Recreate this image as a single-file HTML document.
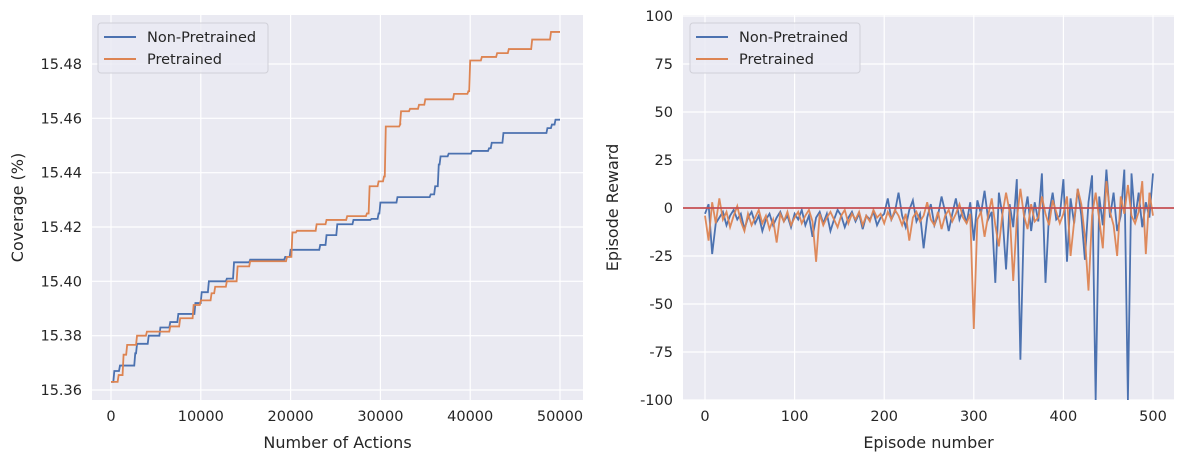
<!DOCTYPE html>
<html><head><meta charset="utf-8"><style>
body{margin:0;background:#fff;}
svg text{font-family:"DejaVu Sans","Liberation Sans",sans-serif;fill:#262626;}
</style></head><body>
<svg id="chart" width="1185" height="462" viewBox="0 0 1185 462" xmlns="http://www.w3.org/2000/svg"></svg>
<script>
// Left chart data (change points, step-after)
const npX=[0,370,1000,2700,2900,4200,5500,6600,7500,9000,9400,10100,10900,12900,13700,15500,19400,20000,22200,23300,24000,25200,27000,29000,29800,30000,31900,35600,36100,36500,36700,37600,40200,42100,42400,43700,48600,49100,49500,50000];
const npY=[15.363,15.367,15.369,15.3735,15.377,15.380,15.383,15.385,15.388,15.388,15.392,15.396,15.400,15.401,15.407,15.408,15.409,15.4116,15.4116,15.4134,15.417,15.421,15.4226,15.423,15.425,15.429,15.431,15.432,15.435,15.443,15.446,15.447,15.448,15.449,15.451,15.4546,15.4564,15.4577,15.4595,15.4595];
const ptX=[0,850,1400,1800,2900,4000,6600,7700,9200,10000,11200,11600,12900,14100,15500,19600,20200,20700,22900,24000,26300,28500,28800,29800,30400,30600,32200,32300,33300,34300,35000,38200,39800,40000,41300,43000,44300,46900,49000,50000];
const ptY=[15.363,15.3655,15.373,15.3766,15.380,15.3815,15.3834,15.3864,15.3913,15.393,15.3956,15.398,15.400,15.4055,15.4074,15.409,15.418,15.4186,15.421,15.4226,15.424,15.425,15.435,15.4368,15.4386,15.457,15.4577,15.4626,15.4635,15.465,15.467,15.469,15.470,15.4813,15.4826,15.484,15.4855,15.489,15.4918,15.4918];
const leftXTicks=[0,10000,20000,30000,40000,50000];
const leftYTicks=[15.36,15.38,15.40,15.42,15.44,15.46,15.48];
// Right chart data (every 4 episodes)
const epStep=4;
const blueR=[-3,2,-24,-8,-5,-2,-9,-4,-1,-6,-3,-11,-5,-2,-8,-4,-12,-6,-3,-9,-5,-2,-7,-4,-10,
-3,-6,-1,-9,-4,-15,-5,-2,-8,-3,-12,-6,-1,-4,-10,-5,-2,-7,-3,-11,-4,-6,-2,-9,-5,
-3,5,-6,-2,8,-4,-10,-1,4,-7,-3,-21,-5,2,-9,-4,6,-2,-12,-3,5,-6,-1,-8,3,
-17,4,-3,9,-6,-2,-39,8,-4,-32,2,-10,15,-79,-5,6,-12,3,-7,18,-39,-3,8,-6,-4,
15,-28,5,-8,10,-4,-27,3,17,-100,6,-9,20,-5,8,-12,-4,20,-100,18,-6,8,-10,3,-5,18];
const orangeR=[-4,-17,3,-8,5,-6,-2,-10,-4,1,-7,-12,-3,-9,-5,-1,-8,-4,-11,-6,-18,-3,-7,-2,-9,
-5,-2,-8,-4,-1,-7,-28,-3,-9,-5,-2,-6,-10,-4,-1,-8,-3,-6,-2,-9,-4,-7,-1,-5,-3,
-8,-2,-6,-1,-4,-9,-3,-17,-5,-2,-7,-4,3,-6,-9,-2,-11,-4,-1,-7,-3,2,-5,-8,-3,
-63,-6,-2,-15,-4,5,-9,-20,-3,8,-2,-38,-6,10,-4,-11,2,-7,-5,6,-3,-9,4,-2,-8,
-3,6,-25,-7,10,2,-15,-43,-4,8,-6,-21,14,-2,-9,-25,6,-3,12,-4,-8,-2,14,-24,8,-4];
const rightXTicks=[0,100,200,300,400,500];
const rightYTicks=[-100,-75,-50,-25,0,25,50,75,100];

const NS="http://www.w3.org/2000/svg";
const svg=document.getElementById('chart');
function mk(tag,attrs,parent){const e=document.createElementNS(NS,tag);for(const k in attrs)e.setAttribute(k,attrs[k]);(parent||svg).appendChild(e);return e;}

function panel(cfg){
  const g=mk('g',{});
  
  
  mk('rect',{x:cfg.x0,y:cfg.y0,width:cfg.x1-cfg.x0,height:cfg.y1-cfg.y0,fill:'#eaeaf2'},g);
  const clip=mk('clipPath',{id:cfg.name+'-clip'},g);
  mk('rect',{x:cfg.x0,y:cfg.y0,width:cfg.x1-cfg.x0,height:cfg.y1-cfg.y0},clip);
  cfg.xt.forEach(v=>{const x=cfg.sx(v);
    const l=mk('line',{x1:x,x2:x,y1:cfg.y0,y2:cfg.y1,stroke:'#fff','stroke-width':1.2},g);
    
    const t=mk('text',{x:x,y:cfg.y1+21,'text-anchor':'middle','font-size':14.5},g);t.textContent=cfg.xf(v);
    });
  cfg.yt.forEach(v=>{const y=cfg.sy(v);
    const l=mk('line',{x1:cfg.x0,x2:cfg.x1,y1:y,y2:y,stroke:'#fff','stroke-width':1.2},g);
    
    const t=mk('text',{x:cfg.x0-10,y:y+5,'text-anchor':'end','font-size':14.5},g);t.textContent=cfg.yf(v);
    });
  const xl=mk('text',{x:(cfg.x0+cfg.x1)/2,y:448,'text-anchor':'middle','font-size':16},g);xl.textContent=cfg.xlabel;
  
  const yl=mk('text',{x:0,y:0,'text-anchor':'middle','font-size':16,transform:`translate(${cfg.ylx},${(cfg.y0+cfg.y1)/2}) rotate(-90)`},g);yl.textContent=cfg.ylabel;
  
  const plot=mk('g',{'clip-path':`url(#${cfg.name}-clip)`},g);
  return {g,plot};
}
function legend(g,x,y){
  const lg=mk('g',{},g);
  
  mk('rect',{x:x,y:y,width:170,height:50,rx:3,fill:'#eaeaf2',stroke:'#d0d0d8','fill-opacity':0.8},lg);
  [['Non-Pretrained','#4c72b0',14],['Pretrained','#dd8452',36]].forEach(([n,c,dy])=>{
    const e=mk('g',{},lg);
    
    mk('line',{x1:x+6,x2:x+38,y1:y+dy,y2:y+dy,stroke:c,'stroke-width':2},e);
    const t=mk('text',{x:x+49,y:y+dy+5,'font-size':14.5},e);t.textContent=n;});
}

// Left
const L={name:'coverage-panel',x0:92,x1:583,y0:15,y1:400,
  sx:v=>111+v*(449/50000), sy:v=>390-(v-15.36)*(326/0.12),
  xt:leftXTicks,yt:leftYTicks,xf:v=>String(v),yf:v=>v.toFixed(2),
  xlabel:'Number of Actions',ylabel:'Coverage (%)',ylx:23};
const lp=panel(L);
function stepPath(xs,ys){let d='';for(let i=0;i<xs.length;i++){const X=L.sx(xs[i]),Y=L.sy(ys[i]);
  if(i===0)d+=`M${X},${Y}`;else{d+=`H${X-1}L${X},${Y}`;}}return d;}
const lb=mk('path',{d:stepPath(npX,npY),fill:'none',stroke:'#4c72b0','stroke-width':1.8},lp.plot);

const lo=mk('path',{d:stepPath(ptX,ptY),fill:'none',stroke:'#dd8452','stroke-width':1.8},lp.plot);

legend(lp.g,98,23);

// Right
const R={name:'reward-panel',x0:683,x1:1174,y0:15,y1:400,
  sx:v=>705+v*(448/500), sy:v=>208-v*(192/100),
  xt:rightXTicks,yt:rightYTicks,xf:v=>String(v),yf:v=>String(v),
  xlabel:'Episode number',ylabel:'Episode Reward',ylx:618};
const rp=panel(R);
function linePath(vals){return vals.map((v,i)=>(i?'L':'M')+R.sx(i*epStep)+','+R.sy(v)).join('');}
const rb=mk('path',{d:linePath(blueR),fill:'none',stroke:'#4c72b0','stroke-width':1.8},rp.plot);

const ro=mk('path',{d:linePath(orangeR),fill:'none',stroke:'#dd8452','stroke-width':1.8,'stroke-opacity':0.95},rp.plot);

const zl=mk('line',{x1:R.x0,x2:R.x1,y1:R.sy(0),y2:R.sy(0),stroke:'#c44e52','stroke-width':1.8},rp.plot);

legend(rp.g,690,23);
</script>
</body></html>
